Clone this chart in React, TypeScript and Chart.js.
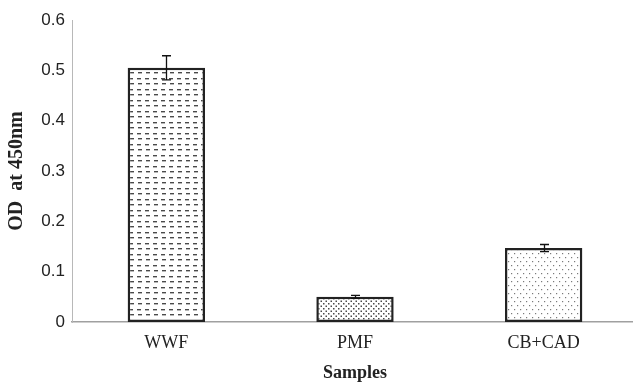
import React, { useEffect, useRef } from 'react';
import { Chart, registerables } from 'chart.js';

Chart.register(...registerables);

const categories = ['WWF', 'PMF', 'CB+CAD'];
const odValues = [0.505, 0.05, 0.147];
const odErrors = [0.024, 0.003, 0.007];
const yTickLabels = ['0', '0.1', '0.2', '0.3', '0.4', '0.5', '0.6'];
const yAxisTitle = 'OD  at 450nm';
const xAxisTitle = 'Samples';

function makeTile(w: number, h: number, draw: (g: CanvasRenderingContext2D) => void) {
  const c = document.createElement('canvas');
  c.width = w;
  c.height = h;
  const g = c.getContext('2d') as CanvasRenderingContext2D;
  g.fillStyle = '#ffffff';
  g.fillRect(0, 0, w, h);
  draw(g);
  return g.createPattern(c, 'repeat') as CanvasPattern;
}

function dashPattern() {
  return makeTile(8, 11, (g) => {
    for (const [x, y] of [[1, 1], [2, 6]]) {
      g.fillStyle = '#4a4a4a';
      g.fillRect(x, y, 4, 1);
      g.fillStyle = '#b8b8b8';
      g.fillRect(x, y + 1, 4, 1);
    }
  });
}

function denseDots() {
  return makeTile(5, 5, (g) => {
    g.fillStyle = '#4a4a4a';
    g.fillRect(0.5, 0.5, 1.5, 1.5);
    g.fillRect(3, 3, 1.5, 1.5);
  });
}

function sparseDots() {
  return makeTile(6, 8, (g) => {
    g.fillStyle = '#7a7a7a';
    g.fillRect(1, 1, 1.2, 1.2);
    g.fillRect(4, 5, 1.2, 1.2);
  });
}

const errorBarPlugin = {
  id: 'errorBars',
  afterDatasetsDraw(chart: any) {
    const { ctx } = chart;
    const y = chart.scales.y;
    const meta = chart.getDatasetMeta(0);
    ctx.save();
    ctx.strokeStyle = '#111';
    ctx.lineWidth = 1.3;
    meta.data.forEach((bar: any, i: number) => {
      const x = Math.round(bar.x) + 0.5;
      const yTop = y.getPixelForValue(odValues[i] + odErrors[i]);
      const yBot = y.getPixelForValue(odValues[i] - odErrors[i]);
      ctx.beginPath();
      ctx.moveTo(x, yTop);
      ctx.lineTo(x, yBot);
      ctx.moveTo(x - 4.5, yTop);
      ctx.lineTo(x + 4.5, yTop);
      ctx.moveTo(x - 4.5, yBot);
      ctx.lineTo(x + 4.5, yBot);
      ctx.stroke();
    });
    ctx.restore();
  },
};

export default function App() {
  const ref = useRef<HTMLCanvasElement | null>(null);

  useEffect(() => {
    if (!ref.current) return;
    const chart = new Chart(ref.current, {
      type: 'bar',
      data: {
        labels: categories,
        datasets: [
          {
            data: odValues,
            backgroundColor: [dashPattern(), denseDots(), sparseDots()],
            borderColor: '#222',
            borderWidth: 2.5,
            borderSkipped: false,
            barPercentage: 0.41,
            categoryPercentage: 1,
          },
        ],
      },
      options: {
        animation: false,
        responsive: false,
        devicePixelRatio: 1,
        layout: { padding: { top: 20, right: 2, left: 0, bottom: 0 } },
        plugins: { legend: { display: false }, tooltip: { enabled: false } },
        scales: {
          x: {
            grid: { display: false, drawTicks: false },
            border: { display: true, color: '#a0a0a0', width: 1.5 },
            ticks: {
              color: '#222',
              padding: 10,
              font: { family: '"Liberation Serif", serif', size: 18 },
            },
            title: {
              display: true,
              text: xAxisTitle,
              color: '#222',
              padding: { top: 0, bottom: -1 },
              font: { family: '"Liberation Serif", serif', size: 18, weight: 'bold' },
            },
            afterFit: (s: any) => {
              s.height = 61;
            },
          },
          y: {
            min: 0,
            max: 0.6,
            grid: { display: false, drawTicks: false },
            border: { display: true, color: '#b8b8b8', width: 1 },
            ticks: {
              stepSize: 0.1,
              color: '#222',
              padding: 7,
              font: { family: '"Liberation Sans", sans-serif', size: 17 },
              callback: (_v: any, i: number) => yTickLabels[i],
            },
            title: {
              display: true,
              text: yAxisTitle,
              color: '#222',
              padding: { top: 5, bottom: 0 },
              font: { family: '"Liberation Serif", serif', size: 20, weight: 'bold' },
            },
            afterFit: (s: any) => {
              s.width = 72;
            },
          },
        },
      },
      plugins: [errorBarPlugin],
    });
    return () => chart.destroy();
  }, []);

  return (
    <div style={{ position: 'absolute', left: 0, top: 0, width: 633, height: 383, overflow: 'hidden', background: '#fff' }}>
      <canvas ref={ref} width={640} height={383} style={{ width: 640, height: 383, display: 'block' }} />
    </div>
  );
}
